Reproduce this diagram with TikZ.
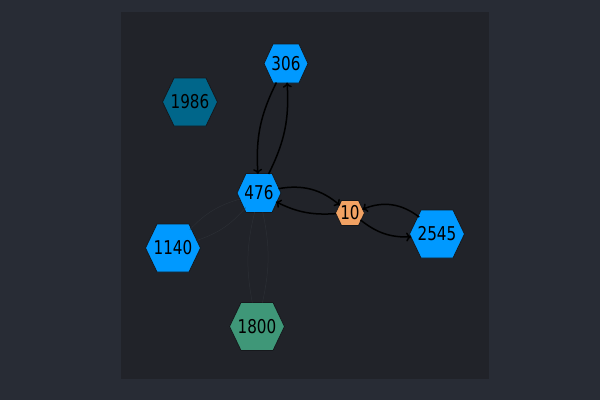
\documentclass[tikz,border=0pt]{standalone}
\usepackage{fontspec}
\setmainfont{DejaVu Sans}[FakeStretch=0.8]
\usetikzlibrary{shapes.geometric,arrows.meta}
\pgfdeclarelayer{bglayer}
\pgfdeclarelayer{hexlayer}
\pgfsetlayers{bglayer,hexlayer,main}
\definecolor{outerbg}{HTML}{282C35}
\definecolor{innerbg}{HTML}{212329}
\definecolor{nblue}{HTML}{0099FF}
\definecolor{nteal}{HTML}{00668A}
\definecolor{ngreen}{HTML}{3F9778}
\definecolor{norange}{HTML}{F2A263}
\definecolor{faint}{HTML}{2B2E34}
\definecolor{edgeline}{HTML}{16181C}
\newcommand{\hxlabel}[1]{\makebox[0pt]{\raisebox{-0.365em}[0pt][0pt]{#1}}}
% #1 node, #2 half width, #3 half top edge, #4 half height, #5 colour
\newcommand{\hexshape}[5]{%
  \filldraw[fill=#5, draw=edgeline, line width=0.8pt, shift={(#1.center)}]
    (-#2,0) -- (-#3,-#4) -- (#3,-#4) -- (#2,0) -- (#3,#4) -- (-#3,#4) -- cycle;}
\tikzset{
  hexnode/.style={regular polygon, regular polygon sides=6, inner sep=0pt, outer sep=0pt,
    text=black, font=\fontsize{19}{19}\selectfont},
  big/.style={minimum size=55pt},
  mid/.style={minimum size=44pt},
  small/.style={minimum size=29pt},
  strong/.style={line width=1.5pt, draw=black, -{To[length=5pt,width=9pt]}},
  weak/.style={line width=0.5pt, draw=faint}
}
\begin{document}
\begin{tikzpicture}[x=1pt,y=-1pt]
\begin{pgfonlayer}{bglayer}
\fill[outerbg] (0,0) rectangle (600,400);
\fill[innerbg] (121,12) rectangle (489,379);
\end{pgfonlayer}
\useasboundingbox (0,0) rectangle (600,400);
\node[hexnode,mid] (n306) at (286,63.5) {\hxlabel{306}};
\node[hexnode,big] (n1986) at (190,102) {\hxlabel{1986}};
\node[hexnode,mid] (n476) at (259,193) {\hxlabel{476}};
\node[hexnode,small] (n10) at (350,213) {\hxlabel{10}};
\node[hexnode,big] (n2545) at (437,234) {\hxlabel{2545}};
\node[hexnode,big] (n1140) at (173,248) {\hxlabel{1140}};
\node[hexnode,big] (n1800) at (257,326.5) {\hxlabel{1800}};
\begin{pgfonlayer}{hexlayer}
\hexshape{n306}{22}{13}{19.5}{nblue}
\hexshape{n1986}{27.5}{16}{24}{nteal}
\hexshape{n476}{22}{13}{19.5}{nblue}
\hexshape{n10}{14.5}{8.5}{12.5}{norange}
\hexshape{n2545}{27.5}{16}{24}{nblue}
\hexshape{n1140}{27.5}{16}{24}{nblue}
\hexshape{n1800}{27.5}{16}{24}{ngreen}
\end{pgfonlayer}
\draw[weak] (n476) to[bend right=15] (n1140);
\draw[weak] (n1140) to[bend right=15] (n476);
\draw[weak] (n476) to[bend right=12] (n1800);
\draw[weak] (n1800) to[bend right=12] (n476);
\draw[strong] (n306) to[bend right=15] (n476);
\draw[strong] (n476) to[bend right=15] (n306);
\draw[strong] (n476) to[bend left=25] (n10);
\draw[strong] (n10) to[bend left=15] (n476);
\draw[strong] (n10) to[bend right=20] (n2545);
\draw[strong] (n2545) to[bend right=30] (n10);
\end{tikzpicture}
\end{document}
